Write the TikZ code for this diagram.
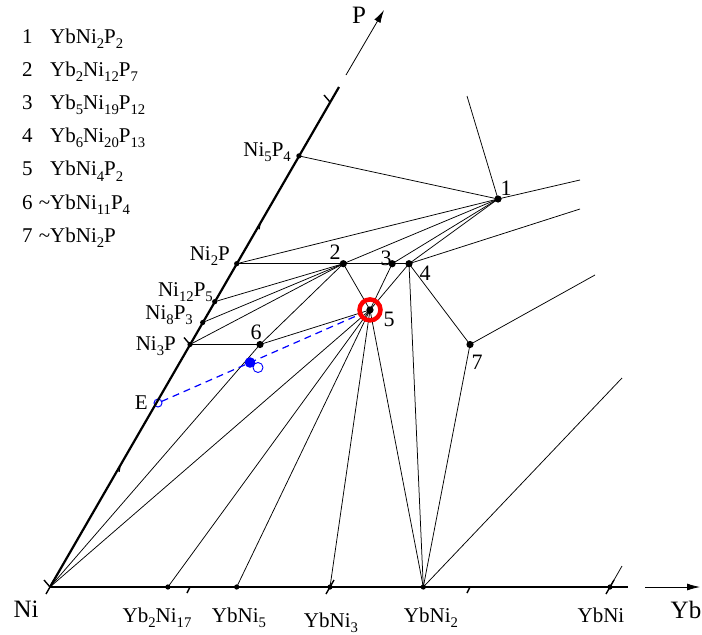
\documentclass[tikz,border=0pt]{standalone}
\usepackage{fontspec}
\setmainfont{Liberation Serif}
\usetikzlibrary{arrows.meta}
\newcommand{\chsub}[1]{\raisebox{-0.25em}{\scalebox{0.7}{#1}}}

\begin{document}
\begin{tikzpicture}[x=1pt, y=-1pt,
    axis/.style={line width=2.2pt},
    tick/.style={line width=1.4pt},
    tie/.style={line width=0.75pt},
    dot/.style={fill=black},
    lbl/.style={font=\fontsize{21}{21}\selectfont, inner sep=0pt},
    num/.style={font=\fontsize{22}{22}\selectfont, inner sep=0pt},
    corner/.style={font=\fontsize{25}{25}\selectfont, inner sep=0pt},
    arr/.style={line width=0.8pt, -{Latex[length=13pt, width=7pt]}}
]
    \useasboundingbox (0,0) rectangle (702,635);

    % corners and ends of the axes
    \coordinate (Ni) at (50,587);
    \coordinate (Ptop) at (339,87);
    \coordinate (Pa) at (346,75);
    \coordinate (Pb) at (384,10);
    \coordinate (Ybend) at (628,587);
    \coordinate (Yba) at (645,587);
    \coordinate (Ybb) at (700,587);

    % binary phases
    \coordinate (Ni3P) at (190,344.5);
    \coordinate (Ni8P3) at (202.7,322.5);
    \coordinate (Ni12P5) at (214.7,301.7);
    \coordinate (Ni2P) at (236.7,263.7);
    \coordinate (Ni5P4) at (298.9,155.9);
    \coordinate (E) at (158,403);
    \coordinate (Yb2Ni17) at (167.9,587);
    \coordinate (YbNi5) at (236.7,587);
    \coordinate (YbNi3) at (330,587);
    \coordinate (YbNi2) at (423.3,587);
    \coordinate (YbNi) at (610,587);

    % ternary phases
    \coordinate (p1) at (498,199);
    \coordinate (p2) at (343.3,263.7);
    \coordinate (p3) at (392.2,263.7);
    \coordinate (p4) at (409,263.7);
    \coordinate (p5) at (370,309.9);
    \coordinate (p6) at (260,344.5);
    \coordinate (p7) at (470,344.5);

    % open ends of tie lines
    \coordinate (e1a) at (467,96);
    \coordinate (e1b) at (580,180);
    \coordinate (e4) at (580,209);
    \coordinate (e7) at (595,275);
    \coordinate (eYbNi2) at (622,378);
    \coordinate (eYbNi) at (622,566);

    % tie lines
    \draw[tie] (Ni5P4) -- (p1);
    \draw[tie] (p1) -- (e1a);
    \draw[tie] (p1) -- (e1b);
    \foreach \q in {Ni2P,p2,p3,p4} \draw[tie] (p1) -- (\q);
    \draw[tie] (p4) -- (e4);
    \draw[tie] (Ni2P) -- (p2) -- (p3) -- (p4);
    \foreach \q in {Ni12P5,Ni8P3,Ni3P,p6,p5} \draw[tie] (p2) -- (\q);
    \draw[tie] (Ni3P) -- (p6);
    \draw[tie] (p6) -- (p5);
    \draw[tie] (p6) -- (Ni);
    \foreach \q in {Ni,Yb2Ni17,YbNi5,YbNi3,YbNi2,p3,p4} \draw[tie] (p5) -- (\q);
    \draw[tie] (YbNi2) -- (p4);
    \draw[tie] (YbNi2) -- (p7);
    \draw[tie] (p4) -- (p7);
    \draw[tie] (p7) -- (e7);
    \draw[tie] (YbNi2) -- (eYbNi2);
    \draw[tie] (YbNi) -- (eYbNi);

    % section E -- 5
    \draw[blue, line width=1pt] (E) circle[radius=4pt];
    \draw[blue, line width=1.2pt, dash pattern=on 7pt off 5pt, shorten <=4pt, shorten >=11pt] (E) -- (p5);
    \coordinate (Bo) at (258,367.5);
    \coordinate (Bf) at (250,362.5);
    \draw[blue, line width=0.9pt] (Bo) circle[radius=5pt];
    \fill[blue] (Bf) circle[radius=5.3pt];

    % axes
    \draw[axis] (Ni) -- (Ptop);
    \draw[axis] (Ni) -- (Ybend);
    \draw[arr] (Pa) -- (Pb);
    \draw[arr] (Yba) -- (Ybb);

    % ticks
    \foreach \t in {0,0.25,0.5} \draw[tick] ({50+560*\t},{587-970*\t}) -- ++(-6,-7);
    \foreach \t in {0.125,0.375} \draw[tick] ({50+560*\t},{587-970*\t}) -- ++(-1,6);
    \foreach \t in {0,0.25,0.5} \draw[tick] ({46+1120*\t},594) -- ++(8,-14);
    \foreach \t in {0.125,0.375} \draw[tick] ({50+1120*\t},587) -- ++(-3,6);

    % phase points
    \foreach \q in {Ni3P,Ni8P3,Ni12P5,Ni2P,Ni5P4,Yb2Ni17,YbNi5,YbNi3,YbNi2,YbNi}
        \fill[dot] (\q) circle[radius=2.6pt];
    \foreach \q in {p1,p2,p3,p4,p5,p6,p7}
        \fill[dot] (\q) circle[radius=3.6pt];
    \draw[red, line width=4.5pt] (p5) circle[radius=10.5pt];

    % corner labels
    \node[corner, anchor=base] (lNi) at (26,617) {Ni};
    \node[corner, anchor=base] (lYb) at (686,618) {Yb};
    \node[corner, anchor=base] (lP) at (359,23) {P};

    % labels of the binary phases
    \node[lbl, anchor=base east] (tNi5P4) at (291,156) {Ni\chsub{5}P\chsub{4}};
    \node[lbl, anchor=base east] (tNi2P) at (230,260) {Ni\chsub{2}P};
    \node[lbl, anchor=base east] (tNi12P5) at (213,296) {Ni\chsub{12}P\chsub{5}};
    \node[lbl, anchor=base east] (tNi8P3) at (193,319) {Ni\chsub{8}P\chsub{3}};
    \node[lbl, anchor=base east] (tNi3P) at (176,350) {Ni\chsub{3}P};
    \node[lbl, anchor=base east] (tE) at (148,409) {E};
    \node[lbl, anchor=base] (tYb2Ni17) at (157,622) {Yb\chsub{2}Ni\chsub{17}};
    \node[lbl, anchor=base] (tYbNi5) at (239,622) {YbNi\chsub{5}};
    \node[lbl, anchor=base] (tYbNi3) at (331,627) {YbNi\chsub{3}};
    \node[lbl, anchor=base] (tYbNi2) at (431,622) {YbNi\chsub{2}};
    \node[lbl, anchor=base] (tYbNi) at (601,622) {YbNi};

    % numbers of the ternary phases
    \node[num] (n1) at (506,188) {1};
    \node[num] (n2) at (335,252) {2};
    \node[num] (n3) at (386,258) {3};
    \node[num] (n4) at (425,273) {4};
    \node[num] (n5) at (389,319) {5};
    \node[num] (n6) at (256,332) {6};
    \node[num] (n7) at (477,362) {7};

    % legend
    \foreach \i/\f in {1/{YbNi\chsub{2}P\chsub{2}},
                       2/{Yb\chsub{2}Ni\chsub{12}P\chsub{7}},
                       3/{Yb\chsub{5}Ni\chsub{19}P\chsub{12}},
                       4/{Yb\chsub{6}Ni\chsub{20}P\chsub{13}},
                       5/{YbNi\chsub{4}P\chsub{2}},
                       6/{\llap{\textasciitilde}YbNi\chsub{11}P\chsub{4}},
                       7/{\llap{\textasciitilde}YbNi\chsub{2}P}} {
        \node[lbl, anchor=base west] (k\i) at (22,{43+33.2*(\i-1)}) {\i};
        \node[lbl, anchor=base west] (f\i) at (50,{43+33.2*(\i-1)}) {\f};
    }
\end{tikzpicture}
\end{document}
